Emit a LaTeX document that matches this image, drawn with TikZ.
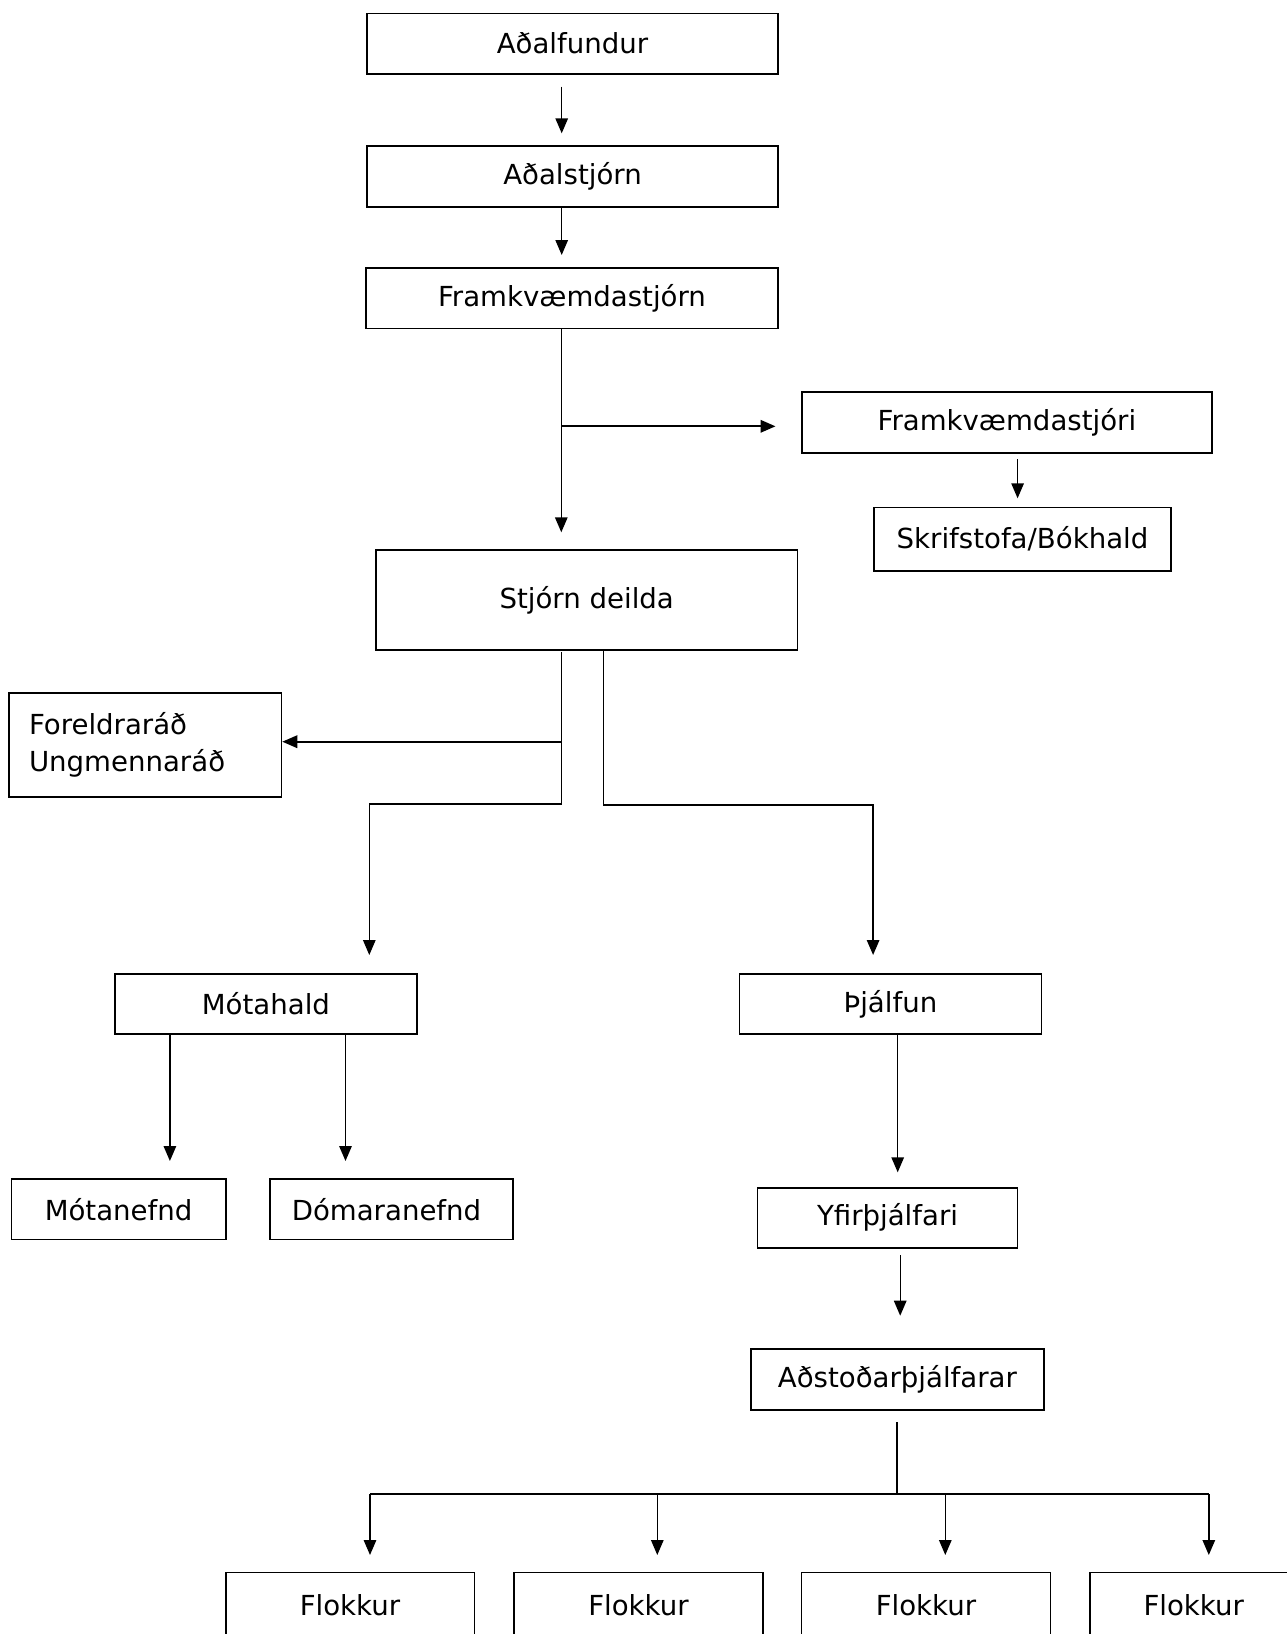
\documentclass[tikz,border=0pt]{standalone}
\usepackage{fontspec}
\setmainfont{DejaVu Sans}
\usetikzlibrary{arrows.meta}
\begin{document}
\begin{tikzpicture}[x=1pt,y=-1pt,
  box/.style={draw, line width=1.6pt, inner sep=0pt, font=\fontsize{27.6}{37.5}\selectfont},
  con/.style={line width=1.4pt},
  arr/.style={con, -{Triangle[length=15pt,width=12.5pt]}},
  thickarr/.style={arr, line width=2pt}]
\useasboundingbox (0,0) rectangle (1287,1634);
\clip (0,0) rectangle (1287,1634);
\fill[white] (0,0) rectangle (1287,1634);

% boxes
\node[box, minimum width=411pt, minimum height=60.7pt] (a1) at (572.5,43.7) {Aðalfundur};
\node[box, minimum width=411pt, minimum height=61pt] (a2) at (572.5,176.5) {Aðalstjórn};
\node[box, minimum width=412pt, minimum height=60.6pt] (a3) at (572,298) {Framkvæmdastjórn};
\node[box, minimum width=410.3pt, minimum height=61pt] (fs) at (1006.9,422.5) {Framkvæmdastjóri};
\node[box, minimum width=297pt, minimum height=63.4pt] (sk) at (1022.5,539) {Skrifstofa/Bókhald};
\node[box, minimum width=421.8pt, minimum height=100pt] (sd) at (586.7,600) {Stjórn deilda};
\node[box, text width=232.5pt, inner xsep=20pt, align=left, minimum height=104pt] (fr) at (145.25,744.7) {Foreldraráð\\Ungmennaráð};
\node[box, minimum width=302pt, minimum height=60pt] (mh) at (265.9,1004) {Mótahald};
\node[box, minimum width=302pt, minimum height=60pt] (tj) at (890.4,1004) {Þjálfun};
\node[box, minimum width=214.2pt, minimum height=60.3pt] (mn) at (118.6,1209.2) {Mótanefnd};
\node[box, minimum width=242.9pt, minimum height=60.3pt] (dn) at (391.5,1209.2) {\hspace*{-10pt}Dómaranefnd};
\node[box, minimum width=260.2pt, minimum height=60pt] (yf) at (887.5,1217.7) {Yfirþjálfari};
\node[box, minimum width=292.9pt, minimum height=61pt] (ad) at (897.4,1379.5) {Aðstoðarþjálfarar};
\node[box, minimum width=248.6pt, minimum height=66pt] (f1) at (350,1605.3) {Flokkur};
\node[box, minimum width=249.5pt, minimum height=66pt] (f2) at (638.45,1605.3) {Flokkur};
\node[box, minimum width=248.7pt, minimum height=66pt] (f3) at (926,1605.3) {Flokkur};
\node[box, minimum width=207.8pt, minimum height=66pt] (f4) at (1193.7,1605.3) {Flokkur};

% connector coordinates
\coordinate (c1s) at (561.7,86.7);
\coordinate (c1e) at (561.7,133.3);
\coordinate (c2e) at (561.7,255);
\coordinate (c3e) at (561.3,532.3);
\coordinate (c3b) at (561.3,426.3);
\coordinate (c3be) at (775.5,426.3);
\coordinate (c4s) at (1017.6,459.3);
\coordinate (c4e) at (1017.6,498.3);
\coordinate (l1) at (561.5,652);
\coordinate (l2) at (561.5,804);
\coordinate (l3) at (369.3,804);
\coordinate (l4) at (369.3,955);
\coordinate (lb) at (561.5,741.7);
\coordinate (r1) at (603.2,650);
\coordinate (r2) at (603.2,805);
\coordinate (r3) at (873.1,805);
\coordinate (r4) at (873.1,955);
\coordinate (m1e) at (169.9,1161);
\coordinate (m2e) at (345.5,1161);
\coordinate (t1e) at (897.7,1172.3);
\coordinate (y1s) at (900.2,1255);
\coordinate (y1e) at (900.2,1315.7);
\coordinate (h0) at (897,1422.3);
\coordinate (h1) at (897,1494.3);
\coordinate (hl) at (370,1494.3);
\coordinate (hr) at (1208.8,1494.3);
\coordinate (k1) at (370,1555);
\coordinate (k2) at (657.3,1555);
\coordinate (k3) at (945.3,1555);
\coordinate (k4) at (1208.8,1555);

% connectors
\draw[arr] (c1s) -- (c1e);
\draw[arr] (a2.south -| c1e) -- (c2e);
\draw[arr] (a3.south -| c3e) -- (c3e);
\draw[thickarr] (c3b) -- (c3be);
\draw[arr] (c4s) -- (c4e);
\draw[arr] (l1) -- (l2) -- (l3) -- (l4);
\draw[thickarr] (lb) -- (fr.east |- lb);
\draw[arr] (sd.south -| r1) -- (r2) -- (r3) -- (r4);
\draw[arr] (mh.south -| m1e) -- (m1e);
\draw[arr] (mh.south -| m2e) -- (m2e);
\draw[arr] (tj.south -| t1e) -- (t1e);
\draw[arr] (y1s) -- (y1e);
\draw[con] (h0) -- (h1);
\draw[con, line width=1.8pt] (hl) -- (hr);
\draw[arr] (hl) -- (k1);
\draw[arr] (hl -| k2) -- (k2);
\draw[arr] (hl -| k3) -- (k3);
\draw[arr] (hr) -- (k4);
\end{tikzpicture}
\end{document}
